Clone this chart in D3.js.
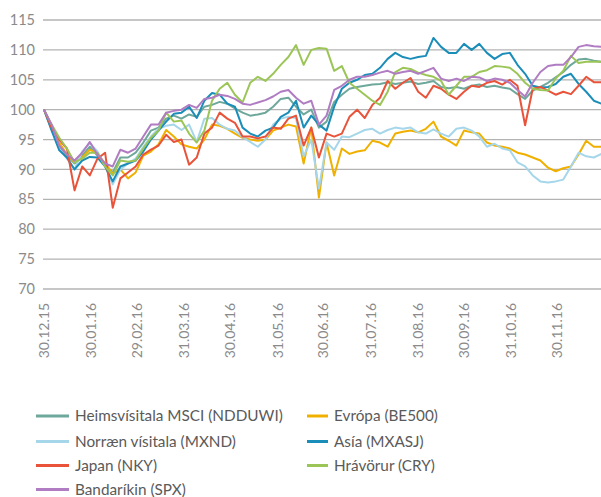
<!DOCTYPE html>
<html><head><meta charset="utf-8">
<script src="https://cdn.jsdelivr.net/npm/d3@7"></script>
<style>body{margin:0;background:#fff;}svg{display:block;font-family:Lato,"Open Sans",sans-serif;}</style>
</head><body>
<svg id="c" width="601" height="497"></svg>
<script>
const dates = ["2015-12-30","2016-01-04","2016-01-09","2016-01-14","2016-01-19","2016-01-24","2016-01-29","2016-02-03","2016-02-08","2016-02-13","2016-02-18","2016-02-23","2016-02-28","2016-03-04","2016-03-09","2016-03-14","2016-03-19","2016-03-24","2016-03-29","2016-04-03","2016-04-08","2016-04-13","2016-04-18","2016-04-23","2016-04-28","2016-05-03","2016-05-08","2016-05-13","2016-05-18","2016-05-23","2016-05-28","2016-06-02","2016-06-07","2016-06-12","2016-06-17","2016-06-22","2016-06-27","2016-07-02","2016-07-07","2016-07-12","2016-07-17","2016-07-22","2016-07-27","2016-08-01","2016-08-06","2016-08-11","2016-08-16","2016-08-21","2016-08-26","2016-08-31","2016-09-05","2016-09-10","2016-09-15","2016-09-20","2016-09-25","2016-09-30","2016-10-05","2016-10-10","2016-10-15","2016-10-20","2016-10-25","2016-10-30","2016-11-04","2016-11-09","2016-11-14","2016-11-19","2016-11-24","2016-11-29","2016-12-04","2016-12-09","2016-12-14","2016-12-19","2016-12-24","2016-12-29"];

const heims = [100,97.3,93.8,92.3,91,92.3,93.8,92.3,90.8,89.5,92,92,92.8,94.5,96.5,97,98.5,99,98.5,99.2,98.8,100.5,100.8,101.3,101,100.2,99.5,99,99.2,99.5,100.5,101.8,102,100.5,99.2,100,97,98,101.3,102.5,103.5,103.8,104,104.2,104.3,104.6,104.3,104.5,104.7,104.3,104.5,104.8,103.8,103.6,103.8,103.5,104,104.2,103.8,104,103.7,103.5,102.6,101.8,103.2,103.8,104.5,105.4,106.3,107.5,108.4,108.5,108.2,108];
const evropa = [100,96.8,94.5,92.5,91.2,92,93.3,92.6,91,89.3,90,88.5,89.5,92.3,93,94.2,96.6,95.5,94.2,93.8,93.5,95,97.5,97.3,96.8,96,95.3,95,94.8,95,96.5,97,97.5,97.2,91,97,85.3,94.5,89,93.5,92.6,93,93.2,94.8,94.5,93.8,96,96.3,96.5,96.2,96.8,98,95.5,94.8,94,96.5,96.2,96,94.5,94,93.8,93.5,92.8,92.5,92,91.5,90.3,89.7,90.2,90.5,92.5,94.8,93.8,93.8];
const norraen = [100,96.8,93.5,91.8,90,93,94.4,93,90.5,87.5,90,91,91.8,93.8,95.5,96.8,97.3,97.5,96.6,97.5,94.6,98.5,98.6,97.5,96.8,96.5,95.4,94.6,93.8,95,97.5,98.5,98.8,98.6,92.2,95,86.8,94.5,93.3,95.5,95.4,96,96.6,96.8,96,96.6,97,96.8,97,96.2,96,96.7,96,95.5,96.8,97,96.5,95.5,93.8,94.3,93.5,93.2,91.2,90.5,89,88,87.8,88,88.3,90.5,92.8,92.2,92,92.6];
const asia = [100,96.5,93.2,92,90,91.5,92.1,92,90.5,88,90.5,91,91.5,93,95,96.5,98,99.3,99.5,100.5,98.6,101.5,102.8,102.5,101,100.5,97,96,95.5,96.5,97,98.8,99.5,101.5,97,99,97.5,96.5,100.5,103.5,104.5,105,105.8,106,107,108.5,109.5,108.8,108.5,108.8,109,112,110.5,109.5,109.5,111,110,111,109.5,108.5,109.3,109.5,107.5,106,104,103.7,103.8,104.3,105.5,106,104.3,103,101.5,101];
const japan = [100,97,95,93.5,86.5,90.5,89,91.8,92.8,83.6,88.5,89.5,90.5,92.5,93.3,94,95.8,94.6,95,90.8,92,96,97,99.5,98.5,97.8,95.5,95.5,95.2,95.5,97,96.8,98.5,99,94,97,92,96,95.5,96,98.8,100,98.6,100.8,102,104.8,103.5,104.5,105.3,103,102,104,103.5,102.5,101.8,103,104,103.8,104.5,104.8,104.2,105,104,97.4,103.5,103.8,103.2,102.5,103,102.6,104,105.5,104.6,104.6];
const hravorur = [100,97.5,95.3,93.5,91.2,91.8,92.8,92.8,90.5,89,91.5,91.3,91.5,93.5,95.3,96.5,99.5,98,98.2,96,94.5,96.5,101.5,103.5,104.5,102.5,101.2,104.5,105.5,104.8,106,107.5,108.8,110.8,107.5,110,110.3,110.2,106.5,107.3,104.5,103.5,102.5,101.5,100.8,103,106.3,107,106.8,106.2,105.8,105.5,104.8,102.5,104,105.5,105.5,106.3,106.6,107.3,107.2,107,106,104.5,103.5,103.3,103.2,105.2,106.5,109,107.8,108,108,108];
const bandarikin = [100,97.5,94,92.5,91.5,92.8,94.6,92.5,91,90.5,93.3,92.8,93.5,95.5,97.5,97.5,99.5,99.8,100,100.8,100.3,101.8,102,102.5,102.3,101.8,101,100.8,101.2,101.6,102.2,103,103.3,102,101,101.5,97.5,99,103.3,104,105,105.5,105.5,105.8,106.2,106.5,106,106.3,106.5,106,106.5,107,105.2,104.8,105.2,104.8,105.5,105.4,104.8,105.2,105,104.5,103.3,102.2,104.5,106.3,107.3,107.5,107.5,108.8,110.5,110.8,110.6,110.5];

const seriesNames = ["Heimsvísitala MSCI (NDDUWI)","Evrópa (BE500)","Norræn vísitala (MXND)","Asía (MXASJ)","Japan (NKY)","Hrávörur (CRY)","Bandaríkin (SPX)"];
const seriesValues = [heims, evropa, norraen, asia, japan, hravorur, bandarikin];
const seriesColors = ["#6ea89b","#f0b000","#a6d6ea","#1a8db8","#e8533a","#9cc557","#b07cc2"];

const yTicks = [70,75,80,85,90,95,100,105,110,115];
const xTickLabels = ["2015-12-30","2016-01-30","2016-02-29","2016-03-31","2016-04-30","2016-05-31","2016-06-30","2016-07-31","2016-08-31","2016-09-30","2016-10-31","2016-11-30"];

const parse = d3.timeParse("%Y-%m-%d");
const fmt = d3.timeFormat("%d.%m.%y");
const svg = d3.select("#c");

const x = d3.scaleTime().domain([parse("2015-12-30"), parse("2016-12-30")]).range([44, 603]);
const y = d3.scaleLinear().domain([70,115]).range([289,20]);

svg.append("g").selectAll("line").data(yTicks).join("line")
  .attr("x1",43).attr("x2",601)
  .attr("y1",d=>y(d)).attr("y2",d=>y(d))
  .attr("stroke","#b3b3b3").attr("stroke-width",1.3);

svg.append("g").selectAll("text").data(yTicks).join("text")
  .attr("x",35).attr("y",d=>y(d)).attr("dy","0.35em")
  .attr("text-anchor","end").attr("fill","#8a8a8a").attr("font-size",14.5)
  .text(d=>d);

svg.append("g").selectAll("text").data(xTickLabels).join("text")
  .attr("transform",d=>`translate(${x(parse(d))},303) rotate(-90)`)
  .attr("dy","0.35em").attr("text-anchor","end")
  .attr("fill","#8a8a8a").attr("font-size",14)
  .text(d=>fmt(parse(d)));

const line = d3.line().x((d,i)=>x(parse(dates[i]))).y(d=>y(d));
const plot = svg.append("g");
seriesValues.forEach((vals,k)=>{
  plot.append("path").datum(vals)
    .attr("fill","none").attr("stroke",seriesColors[k])
    .attr("stroke-width",2).attr("stroke-linejoin","round")
    .attr("d",line);
});

const legendPos = [[36,416],[307,416],[36,441.5],[307,441.5],[36,465.5],[307,465.5],[36,489.5]];
const markLen = [33,21,33,21,33,21,33];
const lg = svg.append("g");
seriesNames.forEach((n,k)=>{
  const [lx,ly] = legendPos[k];
  lg.append("line").attr("x1",lx).attr("x2",lx+markLen[k]).attr("y1",ly).attr("y2",ly)
    .attr("stroke",seriesColors[k]).attr("stroke-width",3);
  lg.append("text").attr("x",lx+markLen[k]+6).attr("y",ly).attr("dy","0.35em")
    .attr("fill","#5a5a5a").attr("font-size",15.3).text(n);
});
</script>
</body></html>
